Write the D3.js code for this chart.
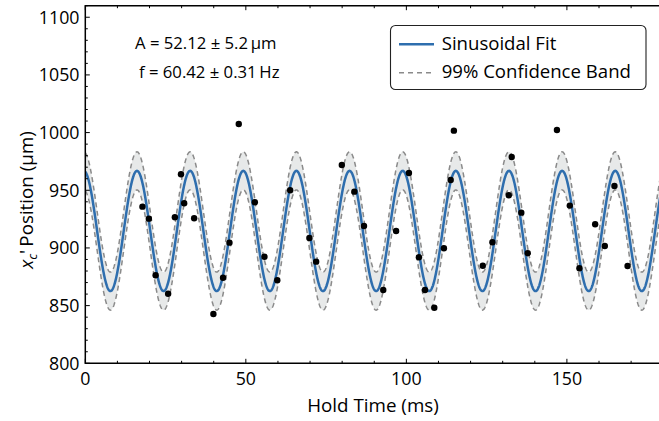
<!DOCTYPE html>
<html>
<head>
<meta charset="utf-8">
<script src="https://cdn.jsdelivr.net/npm/d3@7"></script>
<style>
  html, body { margin: 0; padding: 0; background: #fff; }
  svg { display: block; font-family: "Open Sans", "DejaVu Sans", sans-serif; }
</style>
</head>
<body>
<svg id="chart" width="659" height="421"></svg>
<script>
// ---- data ----
const holdTime = [17.8, 19.8, 21.9, 25.8, 27.9, 29.8, 30.8, 33.9, 39.9, 42.9, 44.9, 47.8,
  52.8, 55.8, 59.8, 63.8, 69.8, 71.9, 79.9, 83.8, 86.8, 92.8, 96.8, 100.8, 103.9, 105.8,
  108.7, 111.7, 113.8, 114.8, 123.8, 126.8, 131.9, 132.8, 135.8, 137.8, 146.9, 150.9,
  153.9, 158.8, 161.8, 164.8, 168.9];
const position = [935.8, 925.4, 876.3, 860.3, 926.6, 963.9, 938.7, 925.7, 842.7, 874.2, 904.6, 1007.5,
  939.6, 892.4, 872.0, 950.0, 908.6, 888.1, 971.9, 948.8, 919.0, 863.6, 914.7, 965.0, 891.9, 863.6,
  848.2, 899.7, 958.9, 1001.7, 884.6, 904.9, 945.7, 978.9, 930.6, 895.4, 1002.3, 936.7,
  882.4, 920.5, 901.7, 953.7, 884.4];

// fit parameters (sinusoidal fit shown in the figure)
const fitOffset = 914.7;      // μm
const fitAmplitude = 52.12;   // μm
const fitFrequency = 60.42;   // Hz
const fitPeakTime = -0.45;    // ms, phase of the cosine
const bandAmp = 16.5;         // 99% band half-width on amplitude (μm)
const bandTime = 0.85;        // 99% band half-width on timing (ms)

const xTicks = [0, 50, 100, 150];
const yTicks = [800, 850, 900, 950, 1000, 1050, 1100];
const annotations = ["A = 52.12 ± 5.2\u2009μm", "f = 60.42 ± 0.31\u2009Hz"];
const legendLabels = ["Sinusoidal Fit", "99% Confidence Band"];

// ---- layout ----
const svg = d3.select("#chart");
const pLeft = 85.3, pTop = 5.7, pBottom = 363.3;
const x = d3.scaleLinear().domain([0, 180]).range([pLeft, pLeft + 180 * 3.2107]);
const y = d3.scaleLinear().domain([800, 1110]).range([pBottom, pTop]);
const pRight = x(180);

const blue = "#2e6eae", gray = "#8a8a8a", fillGray = "#e7e9e9";

svg.append("defs").append("clipPath").attr("id", "clip")
  .append("rect").attr("x", pLeft).attr("y", pTop).attr("width", pRight - pLeft).attr("height", pBottom - pTop);

// fit curve samples
const omega = 2 * Math.PI * fitFrequency / 1000; // rad per ms
const ts = d3.range(0, 180.05, 0.1);
const fitPts = ts.map(t => {
  const ph = omega * (t - fitPeakTime);
  const c = Math.cos(ph), s = Math.sin(ph);
  const v = fitOffset + fitAmplitude * c;
  const hw = Math.sqrt((bandAmp * c) ** 2 + (fitAmplitude * omega * bandTime * s) ** 2);
  return { t, v, lo: v - hw, hi: v + hw };
});

const g = svg.append("g").attr("clip-path", "url(#clip)");
g.append("path").datum(fitPts)
  .attr("d", d3.area().x(d => x(d.t)).y0(d => y(d.lo)).y1(d => y(d.hi)))
  .attr("fill", fillGray);
["lo", "hi"].forEach(k => {
  g.append("path").datum(fitPts)
    .attr("d", d3.line().x(d => x(d.t)).y(d => y(d[k])))
    .attr("fill", "none").attr("stroke", gray).attr("stroke-width", 1.5)
    .attr("stroke-dasharray", "5,3.5");
});
g.append("path").datum(fitPts)
  .attr("d", d3.line().x(d => x(d.t)).y(d => y(d.v)))
  .attr("fill", "none").attr("stroke", blue).attr("stroke-width", 2.5);

g.selectAll("circle.pt").data(holdTime).enter().append("circle")
  .attr("class", "pt")
  .attr("cx", d => x(d)).attr("cy", (d, i) => y(position[i])).attr("r", 3.2)
  .attr("fill", "#000");

// ---- frame & axes (ticks inward) ----
const axG = svg.append("g");
const xMinor = d3.range(0, 181, 10);
const yMinor = d3.range(800, 1111, 10);
xMinor.forEach(v => {
  const len = xTicks.includes(v) ? 4.5 : 2.5;
  axG.append("line").attr("x1", x(v)).attr("x2", x(v)).attr("y1", pBottom).attr("y2", pBottom - len)
    .attr("stroke", "#000").attr("stroke-width", 1);
  axG.append("line").attr("x1", x(v)).attr("x2", x(v)).attr("y1", pTop).attr("y2", pTop + len)
    .attr("stroke", "#000").attr("stroke-width", 1);
});
yMinor.forEach(v => {
  const len = yTicks.includes(v) ? 4.5 : 2.5;
  axG.append("line").attr("x1", pLeft).attr("x2", pLeft + len).attr("y1", y(v)).attr("y2", y(v))
    .attr("stroke", "#000").attr("stroke-width", 1);
});
axG.append("path")
  .attr("d", `M${pRight},${pTop}H${pLeft}V${pBottom}H${pRight}`)
  .attr("fill", "none").attr("stroke", "#000").attr("stroke-width", 1.5);

// tick labels
axG.selectAll("text.xt").data(xTicks).enter().append("text")
  .attr("x", d => x(d)).attr("y", 384.5).attr("text-anchor", "middle")
  .attr("font-size", 17.8).attr("fill", "#000").text(d => d);
axG.selectAll("text.yt").data(yTicks).enter().append("text")
  .attr("x", 79.5).attr("y", d => y(d) + 6.3).attr("text-anchor", "end")
  .attr("font-size", 17.8).attr("fill", "#000").text(d => d);

// axis titles
svg.append("text").attr("x", 373).attr("y", 411.5).attr("text-anchor", "middle")
  .attr("font-size", 18.8).attr("fill", "#000").text("Hold Time (ms)");
const yl = svg.append("text").attr("transform", "translate(32.5,200) rotate(-90)")
  .attr("text-anchor", "middle").attr("font-size", 18.8).attr("fill", "#000");
yl.append("tspan").attr("font-style", "italic").text("x");
yl.append("tspan").attr("font-style", "italic").attr("font-size", 13).attr("dy", 4.5).text("c");
yl.append("tspan").attr("dy", -4.5).text("'\u2009Position (μm)");

// annotations
svg.selectAll("text.ann").data(annotations).enter().append("text")
  .attr("x", (d, i) => i === 0 ? 135 : 139).attr("y", (d, i) => i === 0 ? 49 : 77.5)
  .attr("font-size", 16.7).attr("fill", "#000").text(d => d);

// legend
const lg = svg.append("g");
lg.append("rect").attr("x", 390.5).attr("y", 25.5).attr("width", 255.5).attr("height", 64)
  .attr("rx", 5).attr("fill", "#fff").attr("stroke", "#222").attr("stroke-width", 1.1);
lg.append("line").attr("x1", 399).attr("x2", 434).attr("y1", 44.3).attr("y2", 44.3)
  .attr("stroke", blue).attr("stroke-width", 2.5);
lg.append("line").attr("x1", 399).attr("x2", 434).attr("y1", 72.7).attr("y2", 72.7)
  .attr("stroke", gray).attr("stroke-width", 1.5).attr("stroke-dasharray", "5,4");
lg.selectAll("text").data(legendLabels).enter().append("text")
  .attr("x", 441.7).attr("y", (d, i) => i === 0 ? 49.5 : 78)
  .attr("font-size", 18.6).attr("fill", "#000").text(d => d);
</script>
</body>
</html>
